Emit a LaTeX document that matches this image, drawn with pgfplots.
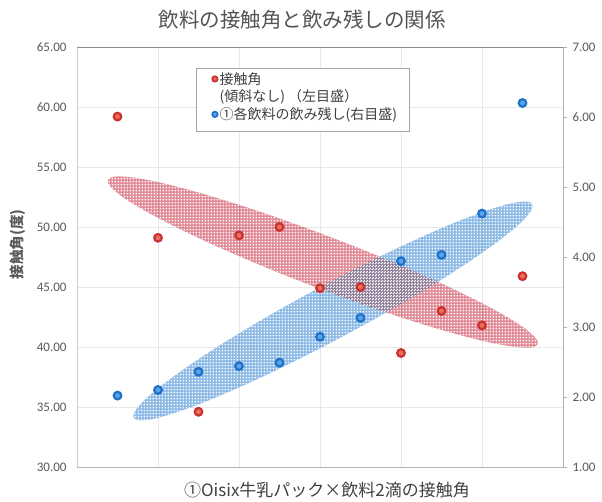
\documentclass[border=0pt]{standalone}
\usepackage{pgfplots}
\pgfplotsset{compat=1.18}
\usepackage{fontspec}
\setmainfont{Carlito}
\newfontfamily\jp{Noto Sans CJK JP}
\usetikzlibrary{patterns.meta}

% small square holes punched into the shaded bands
\pgfdeclarepattern{name=holes, type=uncolored,
  bottom left={\pgfpoint{0pt}{0pt}}, top right={\pgfpoint{3.3bp}{3.3bp}},
  tile size={\pgfpoint{3.3bp}{3.3bp}},
  code={\pgfpathrectangle{\pgfpoint{0.8bp}{0.8bp}}{\pgfpoint{1.7bp}{1.7bp}}\pgfusepath{fill}}}

\definecolor{txtgray}{HTML}{595959}
\definecolor{darkgray}{HTML}{404040}
\definecolor{gridc}{HTML}{E8E8E8}
\definecolor{redline}{HTML}{C93230}
\definecolor{redfill}{HTML}{E8705A}
\definecolor{blueline}{HTML}{1E70C8}
\definecolor{bluefill}{HTML}{5AA5E8}
\definecolor{redband}{HTML}{E08894}
\definecolor{blueband}{HTML}{88B8E4}

% contact angle (left scale)
\pgfplotstableread{
x  angle
1  59.2
2  49.1
3  34.6
4  49.3
5  50.0
6  44.9
7  45.0
8  39.5
9  43.0
10 41.8
11 45.9
}\angledata

% amount left over (right scale)
\pgfplotstableread{
x  rest
1  2.02
2  2.10
3  2.36
4  2.44
5  2.49
6  2.86
7  3.13
8  3.94
9  4.03
10 4.62
11 6.20
}\restdata

\pgfplotsset{
  base/.style={
    at={(0pt,0pt)}, anchor=south west,
    scale only axis, width=486pt, height=420pt,
    xmin=0, xmax=12,
    axis line style={-},
    tick label style={font=\fontsize{13}{13}\selectfont, text=txtgray},
    /pgf/number format/.cd, fixed, fixed zerofill, precision=2, assume math mode=true,
  },
  redmark/.style={only marks, mark=*, mark size=3.8pt,
    mark options={fill=redfill, draw=redline, line width=2.2pt}},
  bluemark/.style={only marks, mark=*, mark size=3.8pt,
    mark options={fill=bluefill, draw=blueline, line width=2.2pt}},
}

\begin{document}
\begin{tikzpicture}
\useasboundingbox (-77pt,-35pt) rectangle (525pt,467pt);

\begin{axis}[base,
  ymin=30, ymax=65, ytick={30,35,...,65},
  xtick={2,4,6,8,10}, xticklabels={},
  major tick length=0pt,
  grid=major, grid style={gridc, line width=0.6pt},
  axis x line*=bottom, axis y line*=left,
  x axis line style={draw=black!30, line width=0.7pt},
  y axis line style={draw=black!20, line width=0.6pt},
  yticklabel style={xshift=-7pt},
  ylabel={\jp\bfseries 接触角(度)},
  ylabel style={at={(axis description cs:-0.121,0.53)}, anchor=center,
    font=\fontsize{14.5}{14.5}\selectfont, text=txtgray},
  legend style={at={(0.245,0.95)}, anchor=north west,
    draw=black!35, fill=white, line width=0.6pt,
    font=\fontsize{14}{16}\selectfont, text=darkgray,
    inner xsep=10pt, inner ysep=2pt, row sep=0.3pt},
  legend cell align=left,
]
  % shaded trend bands
  \fill[redband, blend mode=multiply, rotate around={-20.9:(axis cs:6.07,47.08)}]
    (axis cs:6.07,47.08) ellipse [x radius=230pt, y radius=26pt];
  \fill[blueband, blend mode=multiply, rotate around={28.2:(axis cs:6.32,43.0)}]
    (axis cs:6.32,43.0) ellipse [x radius=226pt, y radius=27pt];
  \fill[pattern=holes, pattern color=white, rotate around={-20.9:(axis cs:6.07,47.08)}]
    (axis cs:6.07,47.08) ellipse [x radius=230pt, y radius=26pt];
  \fill[pattern=holes, pattern color=white, rotate around={28.2:(axis cs:6.32,43.0)}]
    (axis cs:6.32,43.0) ellipse [x radius=226pt, y radius=27pt];

  \addplot[redmark, forget plot] table[x=x, y=angle] {\angledata};

  \addlegendimage{only marks, mark=*, mark size=2.7pt,
    mark options={fill=redfill, draw=redline, line width=1.7pt}}
  \addlegendentry{\jp 接触角}
  \addlegendimage{empty legend}
  \addlegendentry{\jp (傾斜なし) （左目盛）}
  \addlegendimage{only marks, mark=*, mark size=2.7pt,
    mark options={fill=bluefill, draw=blueline, line width=1.7pt}}
  \addlegendentry{\jp ①各飲料の飲み残し(右目盛)}
  \addlegendimage{empty legend}
  \addlegendentry{}
\end{axis}

\begin{axis}[base,
  ymin=1, ymax=7, ytick={1,...,7},
  xtick=\empty,
  axis x line*=top, axis y line*=right,
  x axis line style={draw=black!45, line width=0.8pt},
  y axis line style={draw=black!30, line width=0.6pt},
  ytick style={draw=black!30, line width=0.6pt},
  major tick length=4pt, ytick align=outside,
  yticklabel style={xshift=2pt},
]
  \addplot[bluemark] table[x=x, y=rest] {\restdata};
\end{axis}

\node[font=\jp\fontsize{20.5}{20.5}\selectfont, text=darkgray!90] at (225pt,447pt)
  {飲料の接触角と飲み残しの関係};
\node[font=\jp\fontsize{17}{17}\selectfont, text=darkgray] at (250pt,-23pt)
  {①Oisix牛乳パック×飲料2滴の接触角};
\end{tikzpicture}
\end{document}
